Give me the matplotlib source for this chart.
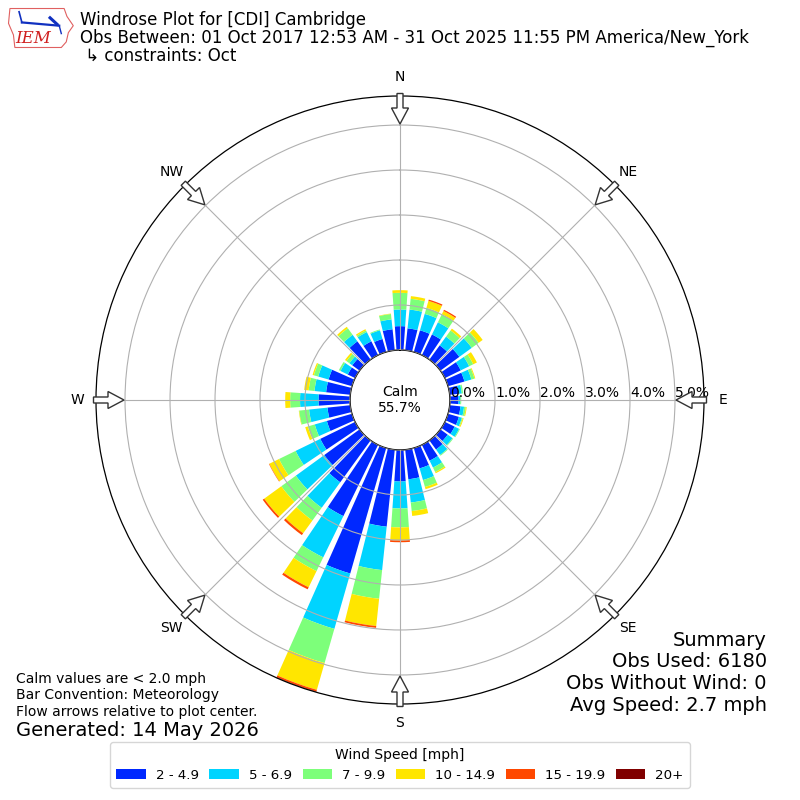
import numpy as np
import matplotlib
matplotlib.use("Agg")
import matplotlib.pyplot as plt
from matplotlib.patches import Patch, FancyArrow, Polygon

# ---------------- data ----------------
directions = list(range(0, 360, 10))
speed_labels = ["2 - 4.9", "5 - 6.9", "7 - 9.9", "10 - 14.9", "15 - 19.9", "20+"]
speed_colors = ["#0028ff", "#00d4ff", "#7dff7a", "#ffe600", "#ff4800", "#800000"]

spd_2_5 = [0.53, 0.49, 0.50, 0.51, 0.39, 0.52, 0.39, 0.38, 0.20, 0.19, 0.24, 0.25,
           0.24, 0.20, 0.25, 0.39, 0.47, 0.66, 0.70, 1.72, 2.90, 1.76, 1.15, 0.97,
           0.86, 0.58, 0.51, 0.70, 0.54, 0.54, 0.18, 0.20, 0.50, 0.34, 0.30, 0.47]
spd_5_7 = [0.37, 0.42, 0.38, 0.30, 0.24, 0.34, 0.21, 0.16, 0.07, 0.04, 0.08, 0.07,
           0.11, 0.13, 0.15, 0.17, 0.27, 0.52, 0.60, 0.97, 1.28, 1.02, 0.70, 0.78,
           0.61, 0.28, 0.41, 0.41, 0.26, 0.24, 0.18, 0.08, 0.18, 0.23, 0.20, 0.22]
spd_7_10 = [0.37, 0.24, 0.14, 0.20, 0.17, 0.19, 0.10, 0.07, 0.03, 0.02, 0.04, 0.02,
            0.02, 0.02, 0.02, 0.11, 0.16, 0.19, 0.42, 0.64, 0.79, 0.34, 0.35, 0.40,
            0.41, 0.16, 0.22, 0.22, 0.13, 0.10, 0.04, 0.08, 0.18, 0.04, 0.02, 0.12]
spd_10_15 = [0.06, 0.06, 0.16, 0.08, 0.05, 0.11, 0.09, 0.02, 0.00, 0.00, 0.02, 0.02,
             0.00, 0.00, 0.00, 0.03, 0.05, 0.11, 0.29, 0.61, 0.62, 0.40, 0.35, 0.47,
             0.24, 0.06, 0.01, 0.11, 0.10, 0.03, 0.00, 0.04, 0.04, 0.03, 0.00, 0.01]
spd_15_20 = [0.00, 0.00, 0.03, 0.03, 0.00, 0.00, 0.00, 0.00, 0.00, 0.00, 0.00, 0.00,
             0.00, 0.00, 0.00, 0.00, 0.00, 0.00, 0.04, 0.04, 0.04, 0.05, 0.05, 0.04,
             0.01, 0.00, 0.00, 0.00, 0.00, 0.00, 0.00, 0.00, 0.00, 0.00, 0.00, 0.00]
spd_20_up = [0.00, 0.00, 0.00, 0.00, 0.00, 0.00, 0.00, 0.00, 0.00, 0.00, 0.00, 0.00,
             0.00, 0.00, 0.00, 0.00, 0.00, 0.00, 0.00, 0.00, 0.01, 0.00, 0.00, 0.00,
             0.00, 0.00, 0.00, 0.00, 0.00, 0.00, 0.00, 0.00, 0.00, 0.00, 0.00, 0.00]
series = [spd_2_5, spd_5_7, spd_7_10, spd_10_15, spd_15_20, spd_20_up]

calm_pct = 55.7
ring_ticks = [0, 1, 2, 3, 4, 5]
compass_angles = [0, 45, 90, 135, 180, 225, 270, 315]
compass_labels = ["N", "NE", "E", "SE", "S", "SW", "W", "NW"]

title_lines = ["Windrose Plot for [CDI] Cambridge",
               "Obs Between: 01 Oct 2017 12:53 AM - 31 Oct 2025 11:55 PM America/New_York",
               " \u21b3 constraints: Oct"]
notes = ["Calm values are < 2.0 mph", "Bar Convention: Meteorology",
         "Flow arrows relative to plot center."]
generated = "Generated: 14 May 2026"
summary = ["Summary", "Obs Used: 6180", "Obs Without Wind: 0", "Avg Speed: 2.7 mph"]

# ---------------- figure ----------------
fig = plt.figure(figsize=(8, 8), dpi=100)
ax = fig.add_axes([0.12, 0.12, 0.76, 0.76], projection="polar")
ax.set_theta_zero_location("N")
ax.set_theta_direction(-1)

theta = np.radians(directions)
width = np.radians(8)
bottom = np.zeros(len(directions))
for vals, col in zip(series, speed_colors):
    vals = np.array(vals)
    ax.bar(theta, vals, width=width, bottom=bottom, color=col, linewidth=0, zorder=2)
    bottom += vals

ax.set_rorigin(-50.0 / 45.0)
ax.set_ylim(0, 5.645)
ax.set_yticks(ring_ticks)
ax.set_yticklabels([])
ax.set_thetagrids(compass_angles, compass_labels, fontsize=10)
ax.tick_params(axis="x", pad=3)
ax.set_axisbelow(False)
ax.grid(True, color="#b0b0b0", linewidth=0.8)
ax.spines["polar"].set_color("black")
ax.spines["polar"].set_linewidth(0.9)
ax.spines["inner"].set_visible(True)
ax.spines["inner"].set_color("black")
ax.spines["inner"].set_linewidth(1.0)

for t in ring_ticks:
    ax.text(np.pi / 2, t, f"{t:.1f}%", ha="left", va="bottom", fontsize=10, zorder=5)

ax.text(0.5, 0.5, f"Calm\n{calm_pct}%", transform=ax.transAxes, ha="center",
        va="center", fontsize=10, zorder=5)

# flow arrows
axpx = 608.0
for ang in compass_angles:
    a = np.radians(ang)
    ux, uy = np.sin(a), np.cos(a)
    r0 = 0.5 + 2.5 / axpx
    r1 = 0.5 - 28.0 / axpx
    x0, y0 = 0.5 + r0 * ux, 0.5 + r0 * uy
    dx, dy = (r1 - r0) * ux, (r1 - r0) * uy
    arr = FancyArrow(x0, y0, dx, dy, width=6 / axpx, head_width=17 / axpx,
                     head_length=16 / axpx, length_includes_head=True,
                     facecolor="white", edgecolor="#333333", linewidth=1.0,
                     transform=ax.transAxes, clip_on=False, zorder=6)
    ax.add_patch(arr)

# ---------------- texts ----------------
for i, line in enumerate(title_lines):
    fig.text(0.1, 1 - (20 + 18 * i) / 800, line, ha="left", va="center", fontsize=12)

for i, line in enumerate(notes):
    fig.text(16 / 800, 1 - (679 + 16.5 * i) / 800, line, ha="left", va="center", fontsize=10)
fig.text(16 / 800, 1 - 730 / 800, generated, ha="left", va="center", fontsize=14)

for i, line in enumerate(summary):
    fig.text(767 / 800, 1 - (640 + 21.7 * i) / 800, line, ha="right", va="center", fontsize=14)

handles = [Patch(facecolor=c, label=l) for c, l in zip(speed_colors, speed_labels)]
leg = fig.legend(handles=handles, ncol=6, loc="center", bbox_to_anchor=(0.5, 1 - 765 / 800),
                 title="Wind Speed [mph]", fontsize=9.6, title_fontsize=10,
                 handlelength=2.2, handleheight=0.75, columnspacing=0.8,
                 handletextpad=0.75, frameon=True, borderpad=0.45)
leg.get_frame().set_edgecolor("#cccccc")

# ---------------- logo (approximation) ----------------
lax = fig.add_axes([0.008, 0.936, 0.088, 0.058])
lax.set_xlim(0, 1)
lax.set_ylim(0, 1)
lax.axis("off")
iowa = [(0.05, 0.92), (0.82, 0.92), (0.86, 0.75), (0.95, 0.55), (0.88, 0.40),
        (0.85, 0.20), (0.78, 0.08), (0.12, 0.08), (0.10, 0.35), (0.03, 0.60)]
lax.add_patch(Polygon(iowa, closed=True, fill=False, edgecolor="#e06060", linewidth=0.8))
lax.plot([0.22, 0.75], [0.62, 0.55], color="#1030c0", lw=1.6)
lax.plot([0.22, 0.18], [0.62, 0.85], color="#1030c0", lw=1.2)
lax.plot([0.62, 0.72], [0.72, 0.58], color="#1030c0", lw=2.2)
lax.plot([0.75, 0.78], [0.55, 0.38], color="#1030c0", lw=1.0)
lax.text(0.12, 0.10, "IEM", color="#d02020", fontsize=12, fontstyle="italic",
         family="serif", ha="left", va="bottom")

fig.savefig("out.png", dpi=100)
